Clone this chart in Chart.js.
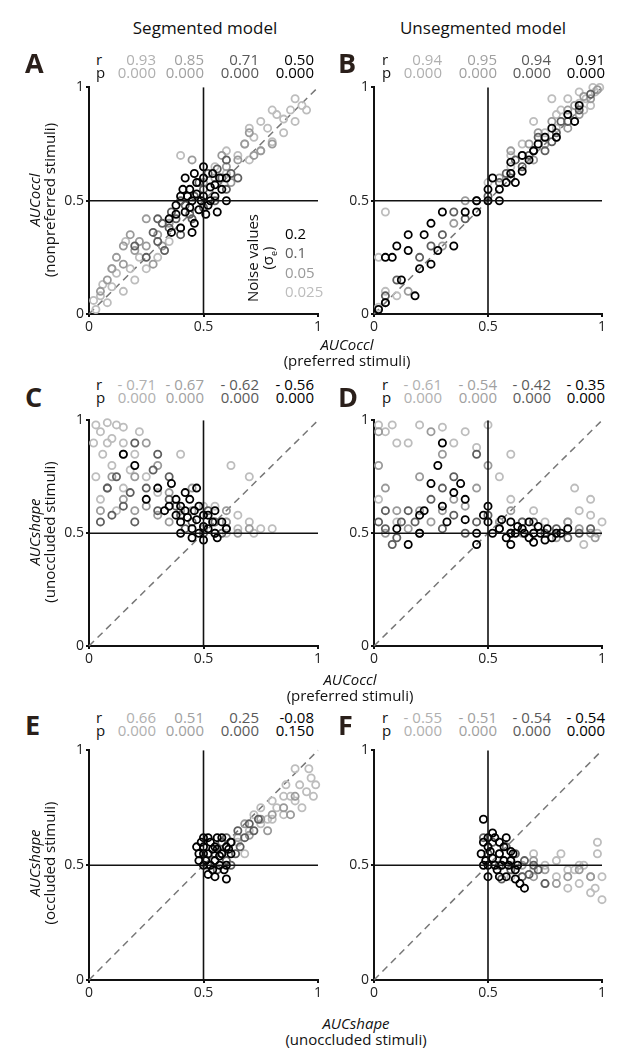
<!DOCTYPE html>
<html><head><meta charset="utf-8">
<script src="https://cdn.jsdelivr.net/npm/chart.js@4"></script>
<style>
body{margin:0;background:#fff;width:634px;height:1061px;position:relative;font-family:"Open Sans",sans-serif;overflow:hidden}
canvas{position:absolute}
.t{position:absolute;white-space:nowrap;color:#111;font-size:15px;line-height:1}
.L{font-weight:bold;font-size:27px;color:#2a1f1a}
.rot{transform:translate(-50%,-50%) rotate(-90deg);text-align:center;line-height:1.0}
</style></head><body>
<script>
const noiseLabels=["0.025","0.05","0.1","0.2"];
const colors=["#bdbdbd","#9a9a9a","#5e5e5e","#000000"];
const tickValues=[0,0.5,1];
// Panel A
const A_025=[[0.03,0.02],[0.05,0.08],[0.08,0.05],[0.1,0.12],[0.12,0.18],[0.15,0.1],[0.18,0.2],[0.2,0.15],[0.22,0.25],[0.6,0.62],[0.65,0.7],[0.7,0.68],[0.72,0.78],[0.75,0.72],[0.78,0.82],[0.8,0.76],[0.82,0.88],[0.85,0.8],[0.88,0.9],[0.9,0.85],[0.93,0.92],[0.7,0.82],[0.75,0.85],[0.55,0.65],[0.35,0.32],[0.3,0.25],[0.02,0.06],[0.06,0.13],[0.1,0.2],[0.25,0.2],[0.6,0.72],[0.68,0.75],[0.8,0.9],[0.85,0.86],[0.9,0.95],[0.95,0.9],[0.4,0.7],[0.16,0.32]];
const A_05=[[0.1,0.2],[0.12,0.25],[0.15,0.22],[0.2,0.28],[0.25,0.3],[0.28,0.22],[0.3,0.35],[0.35,0.4],[0.4,0.38],[0.55,0.6],[0.6,0.65],[0.62,0.58],[0.65,0.68],[0.68,0.75],[0.72,0.7],[0.58,0.7],[0.45,0.68],[0.18,0.35],[0.8,0.75],[0.25,0.42],[0.05,0.1],[0.08,0.15],[0.22,0.32],[0.32,0.3],[0.5,0.58],[0.7,0.8],[0.75,0.72],[0.15,0.3]];
const A_1=[[0.25,0.25],[0.3,0.32],[0.33,0.28],[0.35,0.38],[0.38,0.42],[0.4,0.35],[0.42,0.48],[0.45,0.42],[0.5,0.55],[0.55,0.5],[0.58,0.6],[0.6,0.55],[0.62,0.62],[0.52,0.62],[0.48,0.58],[0.36,0.45],[0.2,0.3],[0.28,0.36],[0.32,0.4],[0.44,0.44],[0.46,0.52],[0.5,0.47],[0.56,0.64],[0.6,0.68],[0.4,0.5],[0.3,0.42],[0.65,0.6]];
const A_2=[[0.35,0.42],[0.38,0.48],[0.4,0.52],[0.42,0.45],[0.44,0.55],[0.45,0.5],[0.47,0.58],[0.48,0.46],[0.5,0.52],[0.5,0.6],[0.52,0.48],[0.53,0.56],[0.55,0.52],[0.56,0.45],[0.58,0.55],[0.46,0.4],[0.42,0.6],[0.54,0.62],[0.4,0.38],[0.6,0.5],[0.43,0.52],[0.46,0.62],[0.49,0.5],[0.51,0.44],[0.53,0.5],[0.44,0.47],[0.47,0.53],[0.5,0.65],[0.38,0.44],[0.57,0.6],[0.41,0.55],[0.55,0.57],[0.45,0.36],[0.36,0.36],[0.6,0.6]];
// Panel B
const B_025=[[0.02,0.03],[0.05,0.1],[0.1,0.08],[0.6,0.65],[0.7,0.72],[0.75,0.8],[0.8,0.82],[0.85,0.88],[0.88,0.85],[0.9,0.93],[0.93,0.95],[0.95,0.92],[0.97,0.98],[0.99,1.0],[0.82,0.9],[0.65,0.75],[0.7,0.85],[0.78,0.95],[0.5,0.58],[0.02,0.25],[0.85,0.95],[0.9,0.98],[0.96,1.0],[0.92,0.9],[0.6,0.7],[0.75,0.78],[0.8,0.88],[0.05,0.45]];
const B_05=[[0.05,0.05],[0.15,0.1],[0.3,0.3],[0.55,0.6],[0.6,0.62],[0.65,0.7],[0.7,0.68],[0.75,0.75],[0.8,0.78],[0.85,0.82],[0.9,0.88],[0.95,0.95],[0.6,0.72],[0.4,0.5],[0.5,0.5],[0.35,0.4],[0.68,0.75],[0.72,0.8],[0.78,0.85],[0.85,0.9],[0.88,0.92],[0.92,0.96],[0.98,0.99]];
const B_1=[[0.1,0.15],[0.2,0.25],[0.25,0.3],[0.3,0.35],[0.4,0.42],[0.5,0.52],[0.55,0.58],[0.6,0.6],[0.65,0.65],[0.7,0.72],[0.75,0.72],[0.8,0.8],[0.85,0.85],[0.45,0.5],[0.35,0.45],[0.05,0.08],[0.58,0.62],[0.62,0.68],[0.68,0.7],[0.72,0.78],[0.78,0.76],[0.82,0.85],[0.9,0.9],[0.95,0.97]];
const B_2=[[0.02,0.02],[0.05,0.05],[0.08,0.25],[0.1,0.3],[0.15,0.28],[0.2,0.2],[0.22,0.35],[0.25,0.22],[0.3,0.45],[0.35,0.3],[0.4,0.45],[0.45,0.5],[0.5,0.55],[0.55,0.55],[0.6,0.62],[0.65,0.63],[0.7,0.72],[0.75,0.78],[0.8,0.78],[0.85,0.88],[0.9,0.92],[0.25,0.4],[0.12,0.15],[0.18,0.08],[0.45,0.45],[0.5,0.5],[0.52,0.6],[0.58,0.58],[0.62,0.58],[0.68,0.68],[0.72,0.75],[0.78,0.82],[0.88,0.85],[0.6,0.67],[0.65,0.7],[0.55,0.5],[0.28,0.28],[0.05,0.25],[0.15,0.35]];
// Panel C
const C_025=[[0.03,0.98],[0.05,0.95],[0.08,0.99],[0.1,0.92],[0.12,0.98],[0.06,0.85],[0.03,0.75],[0.1,0.8],[0.15,0.9],[0.2,0.85],[0.05,0.65],[0.15,0.7],[0.25,0.75],[0.3,0.68],[0.55,0.62],[0.6,0.55],[0.65,0.52],[0.7,0.55],[0.75,0.52],[0.62,0.8],[0.6,0.5],[0.5,0.62],[0.12,0.6],[0.02,0.9],[0.08,0.9],[0.15,0.97],[0.22,0.95],[0.18,0.78],[0.4,0.85],[0.55,0.55],[0.65,0.58],[0.72,0.5],[0.8,0.52],[0.7,0.75]];
const C_05=[[0.05,0.6],[0.08,0.7],[0.15,0.65],[0.2,0.6],[0.25,0.62],[0.3,0.58],[0.35,0.55],[0.5,0.52],[0.55,0.5],[0.6,0.55],[0.65,0.5],[0.2,0.75],[0.3,0.8],[0.4,0.6],[0.45,0.7],[0.1,0.75],[0.15,0.85],[0.25,0.9],[0.35,0.68],[0.7,0.52],[0.6,0.6],[0.45,0.6]];
const C_1=[[0.05,0.55],[0.1,0.58],[0.15,0.62],[0.2,0.55],[0.25,0.7],[0.3,0.6],[0.35,0.65],[0.4,0.58],[0.45,0.55],[0.5,0.5],[0.55,0.55],[0.6,0.52],[0.2,0.9],[0.3,0.85],[0.35,0.75],[0.08,0.7],[0.12,0.75],[0.18,0.68],[0.28,0.78],[0.38,0.62],[0.42,0.52],[0.52,0.6],[0.58,0.5]];
const C_2=[[0.15,0.85],[0.2,0.8],[0.25,0.65],[0.3,0.7],[0.35,0.62],[0.38,0.58],[0.4,0.55],[0.42,0.6],[0.45,0.52],[0.47,0.56],[0.5,0.53],[0.52,0.58],[0.55,0.5],[0.48,0.62],[0.42,0.68],[0.36,0.72],[0.58,0.55],[0.45,0.48],[0.55,0.6],[0.4,0.5],[0.4,0.62],[0.43,0.57],[0.46,0.6],[0.48,0.5],[0.5,0.58],[0.52,0.52],[0.54,0.55],[0.44,0.65],[0.38,0.65],[0.56,0.48],[0.5,0.47],[0.33,0.6],[0.47,0.7],[0.6,0.52]];
// Panel D
const D_025=[[0.02,0.98],[0.05,0.95],[0.1,0.9],[0.2,0.98],[0.3,0.97],[0.4,0.95],[0.35,0.9],[0.45,0.88],[0.6,0.65],[0.7,0.6],[0.75,0.55],[0.8,0.5],[0.85,0.55],[0.9,0.6],[0.95,0.65],[0.98,0.5],[1.0,0.55],[0.92,0.45],[0.02,0.65],[0.1,0.55],[0.55,0.75],[0.08,0.98],[0.15,0.9],[0.5,0.98],[0.6,0.85],[0.88,0.7],[0.95,0.58],[0.75,0.5],[0.65,0.55]];
const D_05=[[0.02,0.8],[0.05,0.7],[0.1,0.6],[0.15,0.52],[0.25,0.55],[0.3,0.6],[0.4,0.62],[0.45,0.7],[0.55,0.55],[0.65,0.5],[0.8,0.48],[0.9,0.52],[0.97,0.48],[0.2,0.75],[0.3,0.85],[0.02,0.95],[0.05,0.5],[0.2,0.6],[0.35,0.65],[0.5,0.8],[0.6,0.6],[0.7,0.5],[0.85,0.55],[0.95,0.5],[0.25,0.95]];
const D_1=[[0.02,0.55],[0.05,0.52],[0.1,0.48],[0.2,0.5],[0.25,0.65],[0.3,0.52],[0.35,0.58],[0.45,0.55],[0.55,0.52],[0.65,0.55],[0.75,0.5],[0.85,0.48],[0.95,0.52],[0.35,0.75],[0.15,0.6],[0.05,0.6],[0.08,0.45],[0.12,0.55],[0.18,0.55],[0.4,0.5],[0.5,0.58],[0.6,0.5],[0.7,0.55],[0.8,0.52],[0.9,0.5],[0.3,0.7],[0.45,0.85]];
const D_2=[[0.1,0.52],[0.2,0.58],[0.25,0.72],[0.3,0.62],[0.35,0.68],[0.4,0.56],[0.45,0.5],[0.5,0.55],[0.55,0.52],[0.58,0.48],[0.6,0.55],[0.62,0.5],[0.65,0.52],[0.68,0.48],[0.7,0.5],[0.72,0.53],[0.75,0.47],[0.8,0.5],[0.5,0.62],[0.45,0.45],[0.28,0.8],[0.15,0.45],[0.52,0.5],[0.56,0.56],[0.6,0.5],[0.63,0.53],[0.66,0.5],[0.68,0.55],[0.7,0.46],[0.73,0.5],[0.76,0.52],[0.78,0.48],[0.82,0.5],[0.85,0.52],[0.6,0.45],[0.48,0.58],[0.4,0.65],[0.32,0.55],[0.22,0.6],[0.2,0.5],[0.38,0.72],[0.3,0.9]];
// Panel E
const E_025=[[0.65,0.6],[0.7,0.65],[0.75,0.68],[0.8,0.7],[0.82,0.75],[0.85,0.72],[0.88,0.8],[0.9,0.78],[0.92,0.85],[0.95,0.82],[0.97,0.88],[0.98,0.8],[0.72,0.72],[0.8,0.78],[0.68,0.55],[0.9,0.92],[0.6,0.58],[0.75,0.75],[0.85,0.8],[0.93,0.75],[0.96,0.92],[0.99,0.85],[0.78,0.7],[0.86,0.85]];
const E_05=[[0.6,0.58],[0.65,0.62],[0.7,0.63],[0.75,0.7],[0.8,0.72],[0.85,0.75],[0.9,0.8],[0.68,0.68],[0.78,0.65],[0.88,0.72]];
const E_1=[[0.55,0.55],[0.58,0.6],[0.6,0.62],[0.62,0.6],[0.65,0.65],[0.7,0.68],[0.72,0.65],[0.6,0.52],[0.56,0.48],[0.52,0.5],[0.62,0.5],[0.66,0.58],[0.68,0.62],[0.74,0.7],[0.64,0.55],[0.58,0.55]];
const E_2=[[0.48,0.55],[0.5,0.58],[0.5,0.5],[0.52,0.55],[0.53,0.6],[0.54,0.48],[0.55,0.52],[0.56,0.57],[0.57,0.5],[0.58,0.55],[0.6,0.58],[0.6,0.5],[0.62,0.55],[0.5,0.62],[0.55,0.45],[0.58,0.62],[0.62,0.6],[0.52,0.46],[0.47,0.58],[0.49,0.6],[0.51,0.52],[0.53,0.5],[0.55,0.58],[0.57,0.54],[0.59,0.48],[0.61,0.57],[0.48,0.52],[0.52,0.62],[0.56,0.62],[0.6,0.44],[0.5,0.55],[0.54,0.57]];
// Panel F
const F_025=[[0.6,0.5],[0.65,0.45],[0.7,0.48],[0.75,0.42],[0.8,0.45],[0.85,0.4],[0.9,0.42],[0.95,0.38],[1.0,0.35],[1.0,0.45],[0.98,0.55],[0.92,0.5],[0.88,0.48],[0.8,0.52],[0.7,0.55],[0.6,0.45],[0.82,0.55],[0.9,0.5],[0.95,0.45],[0.97,0.4],[0.85,0.48],[0.75,0.5],[0.98,0.6]];
const F_05=[[0.55,0.55],[0.6,0.52],[0.65,0.5],[0.7,0.45],[0.75,0.48],[0.8,0.42],[0.85,0.45],[0.9,0.48],[0.95,0.45],[0.7,0.52]];
const F_1=[[0.5,0.55],[0.55,0.5],[0.6,0.48],[0.62,0.55],[0.65,0.45],[0.7,0.5],[0.48,0.62],[0.52,0.6],[0.75,0.42],[0.58,0.58],[0.68,0.46],[0.72,0.48],[0.66,0.52],[0.56,0.44]];
const F_2=[[0.47,0.55],[0.48,0.6],[0.5,0.5],[0.5,0.58],[0.52,0.53],[0.53,0.62],[0.54,0.48],[0.55,0.55],[0.56,0.5],[0.57,0.58],[0.58,0.45],[0.6,0.52],[0.62,0.48],[0.64,0.42],[0.66,0.4],[0.48,0.7],[0.5,0.45],[0.6,0.56],[0.49,0.52],[0.51,0.56],[0.53,0.5],[0.55,0.6],[0.57,0.52],[0.59,0.5],[0.61,0.55],[0.63,0.5],[0.52,0.64],[0.5,0.62],[0.55,0.45],[0.62,0.44],[0.58,0.62],[0.48,0.5]];
// correlation labels
const rA=["0.93","0.85","0.71","0.50"], pA=["0.000","0.000","0.000","0.000"];
const rB=["0.94","0.95","0.94","0.91"], pB=["0.000","0.000","0.000","0.000"];
const rC=["- 0.71","- 0.67","- 0.62","- 0.56"], pC=["0.000","0.000","0.000","0.000"];
const rD=["- 0.61","- 0.54","- 0.42","- 0.35"], pD=["0.000","0.000","0.000","0.000"];
const rE=["0.66","0.51","0.25","-0.08"], pE=["0.000","0.000","0.000","0.150"];
const rF=["- 0.55","- 0.51","- 0.54","- 0.54"], pF=["0.000","0.000","0.000","0.000"];

const FONT='"Open Sans", sans-serif';
function txt(s,x,y,o={}){const d=document.createElement('div');d.className='t '+(o.cls||'');d.innerHTML=s;
 d.style.left=x+'px';d.style.top=y+'px';if(o.color)d.style.color=o.color;if(o.size)d.style.fontSize=o.size+'px';
 if(o.align==='right')d.style.transform='translateX(-100%)';if(o.align==='center')d.style.transform='translateX(-50%)';
 document.body.appendChild(d);return d;}
function rot(s,x,y){return txt(s,x,y,{cls:'rot'});}

function panel(px,py,W,H,series){
 const padT=8,padR=10,ax=34,axB=24;
 const box=document.createElement('div');box.style.position='absolute';box.style.left=(px-ax)+'px';box.style.top=(py-padT)+'px';
 box.style.width=(ax+W+padR)+'px';box.style.height=(padT+H+axB)+'px';
 const c=document.createElement('canvas');c.width=ax+W+padR;c.height=padT+H+axB;
 c.style.left='0';c.style.top='0';
 document.body.appendChild(box);box.appendChild(c);
 const ds=series.map((s,i)=>({data:s.map(p=>({x:p[0],y:p[1]})),showLine:false,pointRadius:3.6,pointBorderWidth:1.8,
   pointBorderColor:colors[i],pointBackgroundColor:'rgba(0,0,0,0)',borderColor:colors[i],order:10-i}));
 ds.unshift({data:[{x:0,y:0},{x:1,y:1}],showLine:true,borderColor:'#777',borderWidth:1.5,borderDash:[7,5],pointRadius:0,order:20});
 ds.unshift({data:[{x:0.5,y:0},{x:0.5,y:1}],showLine:true,borderColor:'#111',borderWidth:1.6,pointRadius:0,order:0});
 ds.unshift({data:[{x:0,y:0.5},{x:1,y:0.5}],showLine:true,borderColor:'#111',borderWidth:1.6,pointRadius:0,order:0});
 const sc=(pos)=>({type:'linear',min:0,max:1,position:pos,
   afterBuildTicks:a=>{a.ticks=tickValues.map(v=>({value:v}));},
   afterFit:a=>{if(pos==='left')a.width=ax;else a.height=axB;},
   border:{display:true,color:'#111',width:2},
   grid:{display:true,drawOnChartArea:false,tickLength:3,color:'#111',lineWidth:2},
   ticks:{padding:2,color:'#222',font:{family:FONT,size:14},callback:v=>String(v)}});
 new Chart(c,{type:'scatter',data:{datasets:ds},options:{responsive:false,animation:false,devicePixelRatio:1,
  layout:{padding:{top:padT,right:padR}},clip:false,
  plugins:{legend:{display:false},tooltip:{enabled:false}},
  scales:{x:sc('bottom'),y:sc('left')}}});
}
panel(89,85,229,229,[A_025,A_05,A_1,A_2]);
panel(374,85,228,229,[B_025,B_05,B_1,B_2]);
panel(89,418,229,228,[C_025,C_05,C_1,C_2]);
panel(374,418,228,228,[D_025,D_05,D_1,D_2]);
panel(89,748,229,232,[E_025,E_05,E_1,E_2]);
panel(374,748,228,232,[F_025,F_05,F_1,F_2]);

const rpCol=["#b0b0b0","#a0a0a0","#5a5a5a","#000"];
function rp(x0,y,edges,r,p){txt('r',x0,y);txt('p',x0,y+13);
 edges.forEach((e,i)=>{txt(r[i],e,y,{align:'right',color:rpCol[i]});txt(p[i],e,y+13,{align:'right',color:rpCol[i]});});}
const edL=[156,204,259,314], edR=[442,497,551,605];
rp(96,52,edL,rA,pA); rp(382,52,edR,rB,pB);
rp(96,377,edL,rC,pC); rp(382,377,edR,rD,pD);
rp(96,710,edL,rE,pE); rp(382,710,edR,rF,pF);

txt('Segmented model',205,19,{align:'center',size:17});
txt('Unsegmented model',483,19,{align:'center',size:17});
txt('A',25,49,{cls:'L'});txt('B',338,49,{cls:'L'});
txt('C',25,383,{cls:'L'});txt('D',338,383,{cls:'L'});
txt('E',25,711,{cls:'L'});txt('F',338,711,{cls:'L'});

rot('<i>AUCoccl</i><br>(nonpreferred stimuli)',42,200);
rot('<i>AUCshape</i><br>(unoccluded stimuli)',42,532);
rot('<i>AUCshape</i><br>(occluded stimuli)',42,863);
txt('<i>AUCoccl</i>',347,337,{align:'center'});txt('(preferred stimuli)',347,353,{align:'center'});
txt('<i>AUCoccl</i>',350,672,{align:'center'});txt('(preferred stimuli)',350,688,{align:'center'});
txt('<i>AUCshape</i>',356,1016,{align:'center'});txt('(unoccluded stimuli)',356,1032,{align:'center'});
rot('Noise values<br>(σ<sub style="font-size:9px">e</sub>)',261,258);
txt('0.2',285,226,{color:colors[3]});txt('0.1',285,245,{color:colors[2]});
txt('0.05',285,265,{color:colors[1]});txt('0.025',285,284,{color:colors[0]});
</script>
</body></html>
